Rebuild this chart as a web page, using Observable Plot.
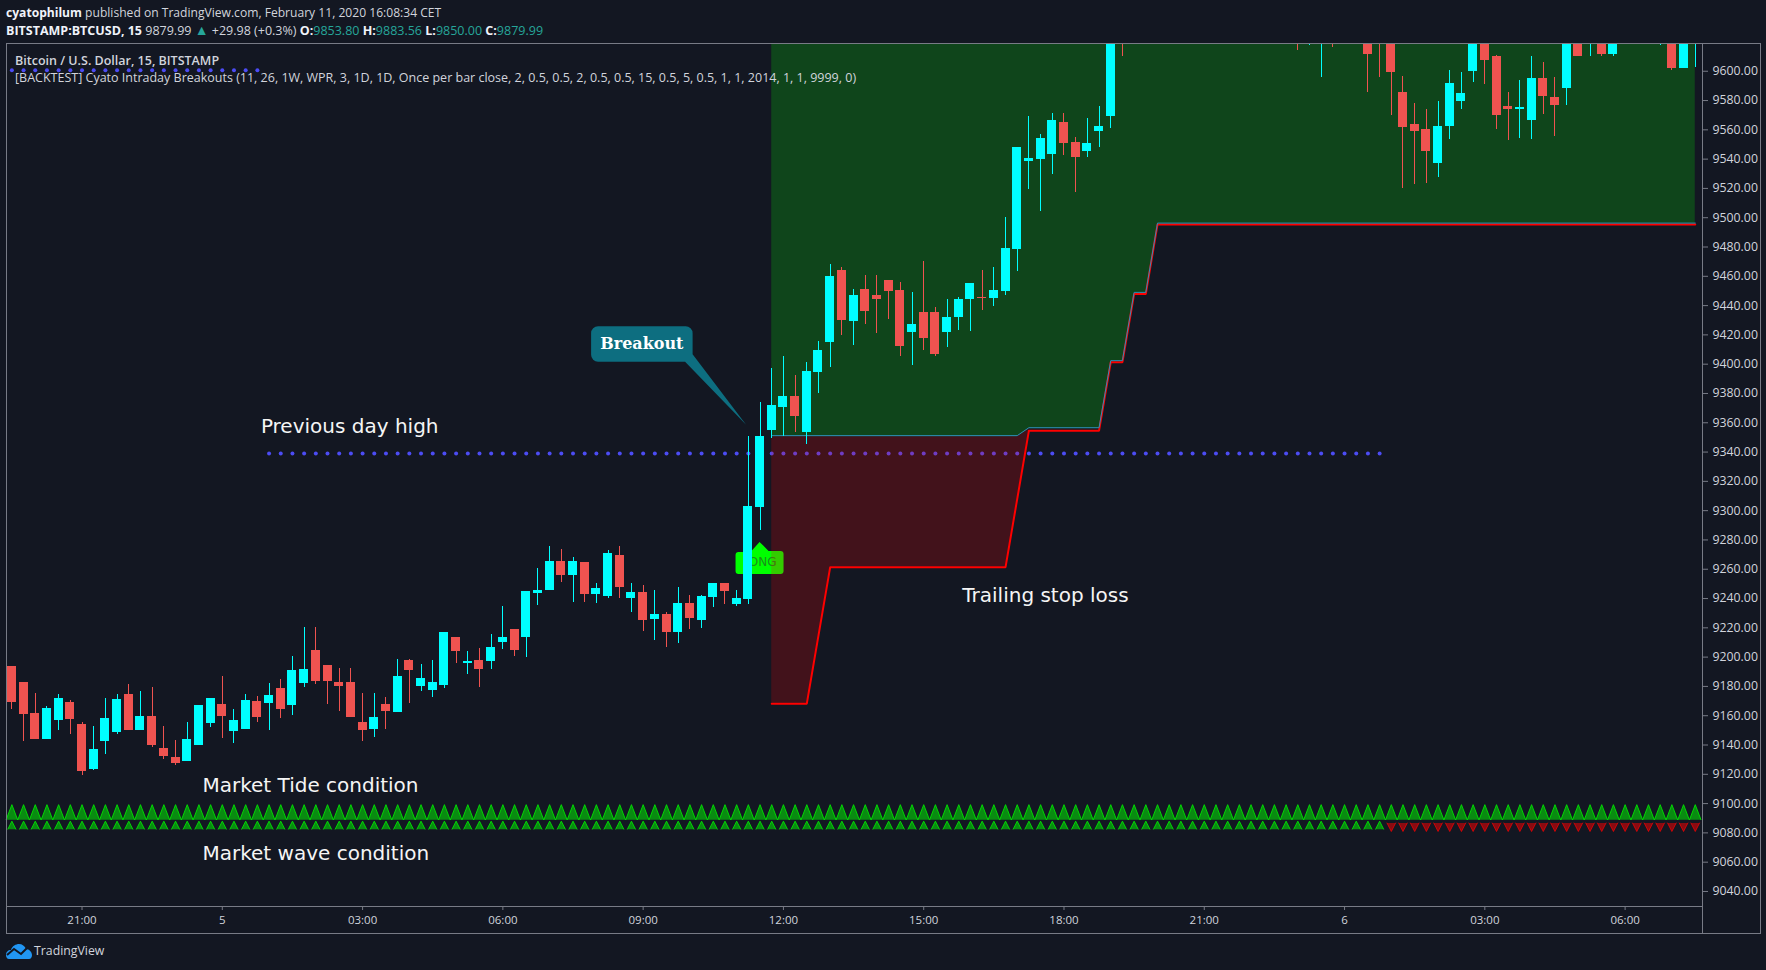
<!DOCTYPE html>
<html><head><meta charset="utf-8">
<script src="https://cdn.jsdelivr.net/npm/d3@7"></script>
<script src="https://cdn.jsdelivr.net/npm/@observablehq/plot@0.6"></script>
<style>
html,body{margin:0;background:#131722;overflow:hidden}
#wrap{position:relative;width:1766px;height:970px;background:#131722}
#box{position:absolute;left:6px;top:43px;width:1753px;height:889px;border:1px solid #787b86}
#sep{position:absolute;left:1702px;top:906px;width:1px;height:27px;background:#787b86}
#chart{position:absolute;left:0;top:0}
.h{position:absolute;white-space:pre;font-family:"Open Sans",sans-serif;color:#d1d4dc;font-size:12.5px;line-height:14px}
.b{font-weight:700;color:#f0f3fa}.t{color:#26a69a}
</style></head><body><div id="wrap"><div id="box"></div><div id="sep"></div><div id="chart"></div>
<div class="h" style="left:6px;top:6px;font-size:12.1px"><span class="b">cyatophilum</span> published on TradingView.com, February 11, 2020 16:08:34 CET</div>
<div class="h" style="left:6px;top:23px"><span class="b">BITSTAMP:BTCUSD, 15</span> 9879.99 <span class="t" style="font-size:14px">▲</span> +29.98 (+0.3%) <span class="b">O:</span><span class="t">9853.80</span> <span class="b">H:</span><span class="t">9883.56</span> <span class="b">L:</span><span class="t">9850.00</span> <span class="b">C:</span><span class="t">9879.99</span></div>
<div class="h" style="left:15px;top:54px;font-weight:600">Bitcoin / U.S. Dollar, 15, BITSTAMP</div>
<div class="h" style="left:15px;top:71px">[BACKTEST] Cyato Intraday Breakouts (11, 26, 1W, WPR, 3, 1D, 1D, Once per bar close, 2, 0.5, 0.5, 2, 0.5, 0.5, 15, 0.5, 5, 0.5, 1, 1, 2014, 1, 1, 9999, 0)</div>
<svg style="position:absolute;left:6px;top:944px" width="26" height="15" viewBox="0 0 26 15"><path d="M0,11C0,8 2,6 5,6C6,2 10,0 13,0C16,0 19,2 20,5C23,5 26,8 26,11C26,13 25,15 23,15L3,15C1,15 0,13 0,11Z" fill="#2196f3"/><path d="M1,11L8,5L15,10L21,4" fill="none" stroke="#131722" stroke-width="2"/></svg>
<div class="h" style="left:34px;top:942px;font-size:12.3px;line-height:18px">TradingView</div>
</div>
<script>
const barLabels = [[6,"21:00"],[18,"5"],[30,"03:00"],[42,"06:00"],[54,"09:00"],[66,"12:00"],[78,"15:00"],[90,"18:00"],[102,"21:00"],[114,"6"],[126,"03:00"],[138,"06:00"]];
const priceTicks = [9040,9060,9080,9100,9120,9140,9160,9180,9200,9220,9240,9260,9280,9300,9320,9340,9360,9380,9400,9420,9440,9460,9480,9500,9520,9540,9560,9580,9600];

const opens = [9193.4,9182.5,9161.3,9143.5,9156.5,9168.8,9153.8,9123.0,9142.2,9148.3,9174.3,9149.7,9159.2,9137.4,9131.2,9128.5,9139.4,9154.5,9167.4,9149.0,9150.4,9169.5,9168.1,9178.4,9166.8,9181.8,9204.3,9194.1,9182.5,9182.5,9155.1,9150.4,9167.4,9162.0,9197.5,9179.7,9177.0,9180.4,9213.2,9195.4,9197.5,9196.8,9209.8,9218.7,9213.2,9243.3,9245.3,9265.1,9255.6,9264.4,9242.6,9241.2,9269.2,9239.8,9243.9,9225.5,9228.9,9216.6,9236.4,9224.8,9240.5,9250.1,9235.7,9239.2,9302.0,9354.6,9370.3,9377.8,9353.2,9394.2,9414.7,9463.9,9429.0,9450.9,9446.8,9457.1,9450.2,9421.5,9435.2,9435.2,9421.5,9431.8,9444.1,9445.4,9444.8,9449.5,9478.2,9538.3,9539.7,9543.1,9565.0,9551.3,9545.2,9558.2,9569.1,9650,9634,9652,9668,9655,9684,9670,9695,9684,9672,9698,9712,9696,9680,9660,9640,9628,9622,9645,9625,9632,9650,9640,9622,9585.4,9563.6,9560.2,9537.0,9562.2,9579.3,9599.8,9625,9610.0,9575.9,9573.2,9566.3,9595.0,9582.0,9588.2,9630,9622,9632,9611.4,9630,9648,9635,9640,9655,9601.2,9630];
const highs = [9193.4,9182.5,9174.9,9166.1,9174.3,9170.2,9155.1,9152.4,9171.5,9174.3,9181.1,9176.3,9179.0,9152.4,9142.8,9155.1,9166.8,9171.5,9186.6,9164.0,9174.3,9172.9,9181.8,9184.5,9200.2,9220.0,9220.0,9194.1,9192.0,9192.0,9174.9,9174.9,9172.2,9198.2,9198.2,9194.8,9197.5,9216.6,9213.2,9203.6,9205.7,9215.3,9234.4,9218.7,9244.6,9260.3,9275.4,9273.3,9267.9,9264.4,9250.1,9272.6,9275.4,9250.1,9248.7,9245.3,9230.3,9247.4,9241.9,9241.9,9250.1,9250.1,9245.3,9350.5,9373.7,9396.9,9405.1,9392.1,9401.0,9415.4,9468.0,9465.9,9450.9,9460.5,9460.5,9457.1,9455.7,9448.9,9470.0,9438.6,9444.1,9445.4,9455.0,9463.9,9465.9,9500.1,9547.9,9569.1,9556.8,9571.1,9570.5,9554.1,9567.7,9575.9,9640,9660,9662,9676,9680,9690,9695,9702,9710,9698,9705,9720,9725,9710,9695,9680,9665,9660,9655,9660,9650,9658,9662,9655,9640,9596.4,9577.9,9573.8,9579.3,9600.5,9599.1,9635,9640,9610.7,9585.4,9593.0,9609.4,9605.9,9595.7,9640,9645,9640,9645,9640,9655,9662,9668,9665,9668,9640,9650];
const lows = [9164.0,9142.2,9143.5,9143.5,9149.7,9146.9,9118.9,9122.4,9133.3,9146.9,9149.7,9149.7,9138.1,9129.9,9125.8,9128.5,9139.4,9151.7,9144.2,9140.8,9150.4,9155.1,9149.7,9157.9,9159.9,9179.0,9181.1,9167.4,9162.7,9158.6,9142.2,9144.9,9150.4,9162.0,9168.1,9176.3,9172.2,9178.4,9195.4,9187.9,9179.0,9191.3,9205.0,9200.2,9199.5,9235.1,9245.3,9250.8,9237.1,9237.1,9236.4,9239.8,9239.8,9230.3,9217.3,9211.2,9206.4,9209.1,9218.7,9219.4,9233.7,9235.7,9234.4,9235.7,9286.2,9349.1,9350.5,9353.2,9345.0,9379.8,9397.6,9419.5,9412.6,9427.0,9420.8,9430.4,9405.1,9398.9,9409.2,9405.1,9411.3,9422.9,9422.2,9436.6,9439.3,9446.8,9463.2,9519.2,9504.2,9529.5,9541.8,9517.2,9541.1,9547.9,9560.9,9610,9622,9640,9648,9650,9662,9660,9678,9665,9660,9685,9690,9672,9650,9630,9614.1,9617.5,9595.7,9616.2,9620,9622,9585.4,9595.7,9569.7,9519.9,9522.6,9523.3,9527.4,9553.3,9573.8,9592.3,9590.9,9560.2,9552.7,9554.0,9553.3,9570.4,9555.4,9576.6,9609.4,9609.4,9609.4,9609.4,9622,9625,9628,9617.5,9600.5,9601.2,9602.5];
const closes = [9168.8,9160.6,9143.5,9164.7,9171.5,9157.2,9121.7,9136.7,9157.9,9170.9,9149.7,9159.2,9139.4,9131.9,9127.1,9143.5,9166.8,9171.5,9159.2,9156.5,9170.2,9158.6,9173.6,9164.0,9190.7,9191.3,9183.1,9183.1,9179.7,9158.6,9149.7,9158.6,9162.7,9186.6,9190.7,9185.2,9182.5,9216.6,9203.6,9196.8,9191.3,9206.4,9213.2,9204.3,9244.6,9245.3,9265.1,9255.6,9265.1,9242.6,9246.7,9270.6,9247.4,9243.9,9224.8,9228.9,9216.6,9236.4,9226.2,9241.2,9250.1,9244.6,9239.8,9302.6,9350.5,9371.6,9377.8,9364.1,9394.9,9409.2,9459.8,9429.7,9446.8,9435.9,9444.1,9449.5,9411.9,9427.0,9417.4,9406.5,9431.8,9444.1,9455.0,9444.8,9450.2,9478.9,9547.9,9540.4,9553.4,9565.7,9550.6,9541.1,9550.0,9561.6,9632,9634,9655,9668,9655,9684,9670,9695,9684,9672,9698,9712,9696,9680,9660,9640,9628,9650,9645,9625,9632,9650,9611.4,9622,9599.1,9561.5,9558.8,9545.2,9562.2,9591.6,9584.8,9625,9607.3,9569.7,9573.2,9575.2,9595.0,9582.7,9576.6,9630,9609.4,9632,9611.4,9630,9648,9635,9660,9655,9601.2,9630,9640];

const stopBars   = [65,68,70,85,87,93,94,95,96,97,98,144];
const stopLevels = [9168.2,9168.2,9261.4,9261.4,9354.6,9354.6,9401.4,9401.4,9448,9448,9495.3,9495.3];
const entryBars   = [65,86,87,93,94,95,96,97,98,144];
const entryLevels = [9350.2,9350.2,9355.6,9355.6,9401.4,9401.4,9448,9448,9495.3,9495.3];
const zoneBars = [65,68,70,85,86,87];
const zoneStops = [9168.2,9168.2,9261.4,9261.4,9308,9354.6];
const zoneEntries = [9350.2,9350.2,9350.2,9350.2,9350.2,9355.6];
const topOfZone = 9640;

const dayHighEarlierBars = 22, dayHighEarlier = 9600.3, dayHighLater = 9338.6, dayHighLastBar = 117;
const waveLastUpBar = 117;
const longBar = 64, longPrice = 9278;
const breakoutBar = 62.85, breakoutPrice = 9358;

const notes = ["Previous day high","Trailing stop loss","Market Tide condition","Market wave condition"];
const noteBars = [21.3,81.3,16.3,16.3];
const notePrices = [9357,9242,9112,9065.6];

const tideLevel = 9088.7, waveUpLevel = 9082.2, waveDownLevel = 9086.4;

const candles = opens.map((o,i)=>({i,o,h:highs[i],l:lows[i],c:closes[i],col:closes[i]>=o?"#00ffff":"#ef5350"}));
const hw = 0.385;
const dotData = d3.range(0,dayHighLastBar+1).map(i=>({i,p:i<dayHighEarlierBars?dayHighEarlier:dayHighLater}));
const stopData = stopBars.map((i,k)=>({i,p:stopLevels[k]}));
const entryData = entryBars.map((i,k)=>({i,p:entryLevels[k]}));
const zoneData = zoneBars.map((i,k)=>({i,s:zoneStops[k],e:zoneEntries[k]}));
const bars = d3.range(0,145);

function longLabel(index,{x,y}){
  const g=d3.create("svg:g"), cx=x(longBar), t=y(longPrice);
  g.append("path").attr("d",`M${cx-24},${t+13}a3,3 0 0 1 3,-3H${cx-9}L${cx},${t}L${cx+9},${t+9}H${cx+21}a3,3 0 0 1 3,3V${t+29}a3,3 0 0 1 -3,3H${cx-21}a3,3 0 0 1 -3,-3Z`).attr("fill","#00ff00");
  g.append("text").attr("x",cx).attr("y",t+21).attr("text-anchor","middle").attr("dominant-baseline","middle").attr("fill","#1a8f1a").attr("font-size",12).attr("font-family","DejaVu Sans").text("LONG");
  return g.node();
}
function breakoutCallout(index,{x,y}){
  const g=d3.create("svg:g"), tx=x(breakoutBar), ty=y(breakoutPrice);
  const L=tx-155,T=ty-98.5,W=101.5,H=35.5;
  g.append("path").attr("fill","#0d6e80").attr("d",`M${L+7},${T}H${L+W-7}a7,7 0 0 1 7,7V${T+H-7.5}L${tx},${ty}L${L+W-7.5},${T+H}H${L+7}a7,7 0 0 1 -7,-7V${T+7}a7,7 0 0 1 7,-7Z`);
  g.append("text").attr("x",L+W/2).attr("y",T+H/2).attr("text-anchor","middle").attr("dominant-baseline","central").attr("fill","#fff").attr("font-size",16).attr("font-weight",700).attr("font-family","DejaVu Serif").text("Breakout");
  return g.node();
}

const plot = Plot.plot({
  width:1766,height:970,marginLeft:6,marginRight:64,marginTop:43,marginBottom:64,
  style:{background:"transparent",color:"#d1d4dc",fontFamily:"'Open Sans',sans-serif",fontSize:"11.5px"},
  x:{type:"linear",domain:[-0.46,144.62],axis:null},
  y:{type:"linear",domain:[9029.4,9618.6],axis:null},
  marks:[
    Plot.dot(dotData,{x:"i",y:"p",r:2,fill:"#4c4cf5",clip:true}),
    longLabel,
    Plot.areaY(entryData,{x:"i",y1:"p",y2:()=>topOfZone,fill:"#00ff00",fillOpacity:0.2,clip:true}),
    Plot.areaY(zoneData,{x:"i",y1:"s",y2:"e",fill:"#ff0000",fillOpacity:0.2,clip:true}),
    Plot.line(stopData,{x:"i",y:"p",stroke:"#ff0000",strokeWidth:2,dy:0.5,clip:true}),
    Plot.line(entryData,{x:"i",y:"p",stroke:"#2e8fb8",strokeWidth:1,dy:-1,clip:true}),
    breakoutCallout,
    Plot.ruleX(candles,{x:"i",y1:"l",y2:"h",stroke:"col",strokeWidth:1,clip:true,shapeRendering:"crispEdges"}),
    Plot.rect(candles,{x1:d=>d.i-hw,x2:d=>d.i+hw,y1:"o",y2:"c",fill:"col",clip:true,shapeRendering:"crispEdges"}),
    Plot.vector(bars,{x:d=>d,y:()=>tideLevel,shape:"spike",anchor:"start",r:5.7,length:15,rotate:0,fill:"#00ff00",fillOpacity:0.5,stroke:"#00e600",strokeWidth:1,strokeOpacity:0.9}),
    Plot.vector(bars.filter(d=>d<=waveLastUpBar),{x:d=>d,y:()=>waveUpLevel,shape:"spike",anchor:"start",r:4,length:8,rotate:0,fill:"#00ff00",fillOpacity:0.5,stroke:"#00e600",strokeWidth:1,strokeOpacity:0.9}),
    Plot.vector(bars.filter(d=>d>waveLastUpBar),{x:d=>d,y:()=>waveDownLevel,shape:"spike",anchor:"start",r:4.3,length:8.5,rotate:180,fill:"#ff0000",fillOpacity:0.5,stroke:"#ff0000",strokeWidth:1,strokeOpacity:0.7}),
    Plot.text(notes,{x:(d,k)=>noteBars[k],y:(d,k)=>notePrices[k],text:d=>d,textAnchor:"start",fontSize:20,fontFamily:"DejaVu Sans",fill:"#f5f5f5"}),
    Plot.frame({stroke:"#787b86"}),
    Plot.axisY({anchor:"right",ticks:priceTicks,tickFormat:d3.format(".2f"),tickSize:5,tickPadding:5,label:null,stroke:"#787b86",fontSize:12.3,dy:0.5}),
    Plot.axisX({anchor:"bottom",ticks:barLabels.map(d=>d[0]),tickFormat:i=>new Map(barLabels).get(i),tickSize:4,tickPadding:5,label:null,stroke:"#787b86"})
  ]
});
document.getElementById("chart").appendChild(plot);
</script></body></html>
